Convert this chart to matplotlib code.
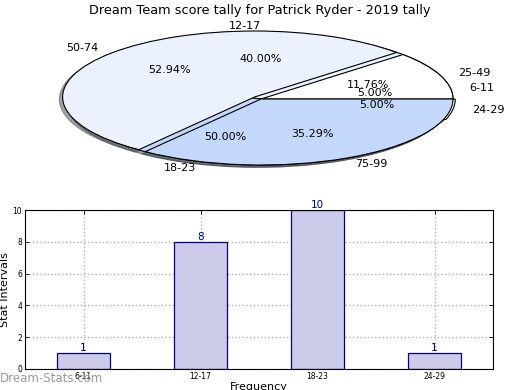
import matplotlib
matplotlib.use("Agg")
import matplotlib.pyplot as plt

# Data
title = "Dream Team score tally for Patrick Ryder - 2019 tally"
outer_labels = ["25-49", "50-74", "75-99"]
outer_counts = [2, 9, 6]
inner_labels = ["6-11", "12-17", "18-23", "24-29"]
inner_counts = [1, 8, 10, 1]
bar_labels = ["6-11", "12-17", "18-23", "24-29"]
bar_values = [1, 8, 10, 1]

WHITE = "#ffffff"
LIGHT = "#ebf1fd"
BLUE = "#c4d8fb"

fig = plt.figure(figsize=(5.2, 3.9), dpi=100)
fig.text(0.5, 0.974, title, ha="center", va="center", fontsize=9.3)

# Pie axes (squashed ellipse)
pax = fig.add_axes([69/520, 1-165/390, 384/520, 132/390])
wp = dict(edgecolor="black", linewidth=0.8)
shadow = dict(ox=-0.012, oy=-0.025, shade=0.7)
pax.pie(inner_counts, labels=inner_labels, colors=[WHITE, LIGHT, BLUE, WHITE],
        autopct="%.2f%%", pctdistance=0.6, labeldistance=1.1, startangle=0,
        explode=[0, 0, 0, 0.012], shadow=shadow, wedgeprops=wp,
        textprops=dict(fontsize=8))
pax.pie(outer_counts, labels=outer_labels, colors=[WHITE, LIGHT, BLUE],
        autopct="%.2f%%", pctdistance=0.6, labeldistance=1.1, startangle=0,
        explode=[0, 0.045, 0], shadow=shadow, wedgeprops=wp,
        textprops=dict(fontsize=8))
pax.set_aspect("auto")
pax.set_xlim(-1, 1)
pax.set_ylim(-1, 1)
pax.axis("off")

# Bar axes
bax = fig.add_axes([25/520, 1-369/390, 468/520, 159/390])
x = list(range(len(bar_labels)))
bars = bax.bar(x, bar_values, width=0.45, color="#ccccea", edgecolor="#000080",
               linewidth=0.9, zorder=2)
for xi, v in zip(x, bar_values):
    bax.text(xi, v, str(v), ha="center", va="bottom", fontsize=7.5,
             color="#000080", zorder=3)
bax.set_xlim(-0.5, 3.5)
bax.set_ylim(0, 10)
bax.set_xticks(x)
bax.set_xticklabels(bar_labels)
bax.set_yticks([0, 2, 4, 6, 8, 10])
bax.tick_params(direction="in", labelsize=5.5, top=True, right=True,
                length=3, width=0.6, pad=2)
bax.grid(True, linestyle=":", color="#b0b0b0", linewidth=1.0, zorder=0)
bax.set_axisbelow(True)
bax.set_ylabel("Stat Intervals", fontsize=8, labelpad=2)
bax.set_xlabel("Frequency", fontsize=8, labelpad=1)
for s in bax.spines.values():
    s.set_linewidth(0.8)

fig.text(0.0, 1-379/390, "Dream-Stats.com", ha="left", va="center",
         fontsize=8.5, color="#9a9a9a")

fig.savefig("out.png", dpi=100)
